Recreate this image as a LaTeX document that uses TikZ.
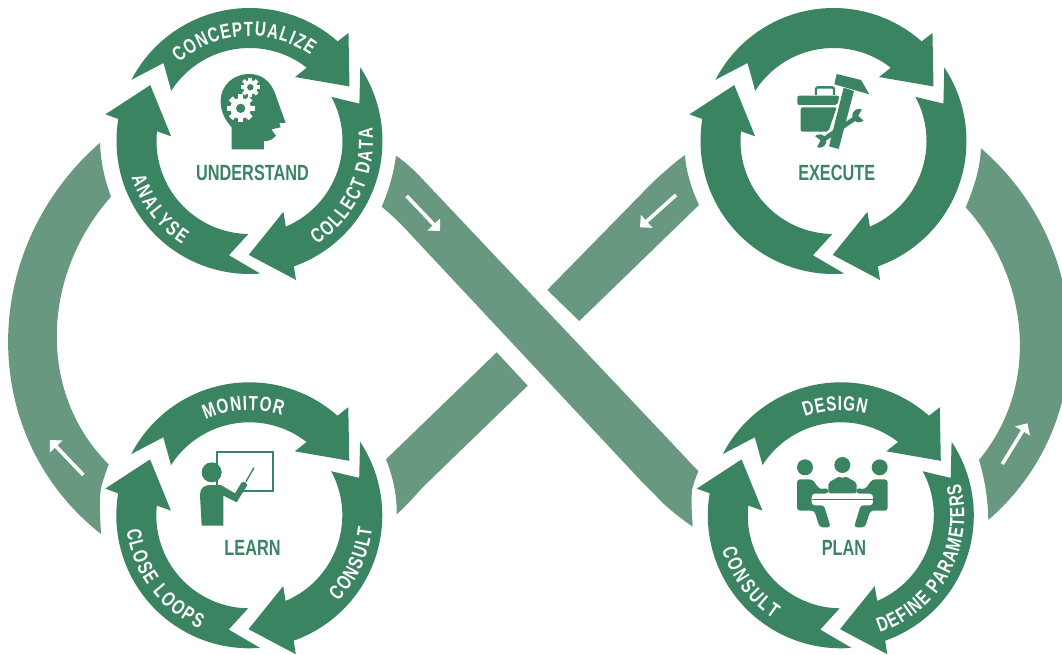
\documentclass[tikz,border=0pt]{standalone}
\usepackage{fontspec}
\newfontfamily\ringfont[FakeStretch=0.74]{Liberation Sans}
\usetikzlibrary{arrows.meta,decorations.text}
\definecolor{ringgreen}{HTML}{3A8462}
\definecolor{bandgreen}{HTML}{689980}
\newcommand{\ringstyle}{\ringfont\bfseries\fontsize{20.5}{20.5}\selectfont}
\tikzset{x=1pt, y=-1pt,
band/.style={fill=bandgreen}, % the pale loop of the eight
flowarrow/.style={draw=white, line width=3.6pt, -{Triangle[length=9pt,width=17pt,fill=white]}},
centerlabel/.style={font=\ringfont\bfseries\fontsize{22}{22}\selectfont, text=ringgreen, inner sep=0pt},
icon/.style={fill=ringgreen},
}
% three arrows of a ring
\newcommand{\cyclering}{
\foreach \rot in {0,-119,-238}
\fill[ringgreen,rotate=\rot] (152.6:133) arc[start angle=152.6,end angle=48.5,radius=133] -- (47.5:146.5) -- (28.6:113.9) -- (54.6:78.5) -- (52:93) arc[start angle=52,end angle=147.3,radius=93] -- (137.8:116.1) -- cycle;
}
\newcommand{\ringlabel}[4]{
\path[decorate,decoration={text along path,text color=white,text align=fit to path,text={|\ringstyle|#1}}] (#2:#4) arc[start angle=#2,end angle=#3,radius=#4];
}
\newcommand{\cog}[3]{
\begin{scope}[shift={(#1,#2)},scale=#3]
\fill[white] (0,0) circle (.74);
\foreach \a in {0,45,...,315}
\fill[white,rotate=\a] (-.2,.6) rectangle (.2,1);
\fill[ringgreen] (0,0) circle (.33);
\end{scope}
}

\begin{document}
\begin{tikzpicture}
\useasboundingbox (0,0) rectangle (1062,655);
\clip (0,0) rectangle (1062,655);

\coordinate (understandc) at (249.5,141);
\coordinate (executec) at (833.5,141);
\coordinate (learnc) at (249.3,515.3);
\coordinate (planc) at (840.8,515.3);

% pale bands
\fill[band] (100,142.7) .. controls (-22.7,250) and (-22.7,437) .. (101,534) .. controls (100,515) and (99,500) .. (101,488) .. controls (103,480) and (106,472) .. (108.7,464.3) .. controls (38,394.5) and (40.2,276.5) .. (111,196.7) .. controls (105,180) and (101,165) .. cycle;
\fill[band] (981,148.3) .. controls (1094.4,246.4) and (1101.7,421.9) .. (988.3,520) .. controls (988,500) and (985,480) .. (979,460) .. controls (1041.7,384) and (1028.4,277) .. (965.7,207.3) .. controls (973,190) and (980,170) .. cycle;
\fill[band] (396,155.7) .. controls (408,164) and (416,172) .. (423.3,180) -- (680,451.7) .. controls (686,458) and (692,465) .. (698.3,471) .. controls (695,480) and (693,485) .. (692,490) .. controls (691,505) and (692,515) .. (692.7,526.7) .. controls (680,518) and (665,506) .. (656.7,496.7) -- (643.3,483.3) -- (403.3,226.7) .. controls (395,218) and (388,212) .. (381.7,206.7) .. controls (389,190) and (394,172) .. cycle;
\fill[band] (685,155) .. controls (686,172) and (692,190) .. (699,205) -- (579.3,321) -- (547.3,290) -- (653.3,181.7) .. controls (664,172) and (675,162) .. cycle;
\fill[band] (496.7,352.3) -- (527.7,385.7) -- (423.3,486.7) .. controls (415,496) and (405,507) .. (396.7,514.3) .. controls (397,495) and (393,477) .. (386,459.3) -- cycle;

\draw[flowarrow] (83.3,475) -- (50,440);
\draw[flowarrow] (1002.3,464) -- (1027.3,423.3);
\draw[flowarrow] (406.7,196) -- (440,231);
\draw[flowarrow] (676,195) -- (640,227.3);

% rings
\begin{scope}[shift={(understandc)},y=1pt]
\cyclering
\ringlabel{CONCEPTUALIZE}{132}{54.5}{105}
\ringlabel{COLLECT DATA}{-57}{6}{123.5}
\ringlabel{ANALYSE}{197}{237}{123.5}
\end{scope}

\begin{scope}[shift={(executec)},y=1pt]
\cyclering
\end{scope}

\begin{scope}[shift={(learnc)},y=1pt]
\cyclering
\ringlabel{MONITOR}{114.6}{71.7}{105}
\ringlabel{CONSULT}{-44}{-6}{123.5}
\ringlabel{CLOSE LOOPS}{187}{246.3}{123.5}
\end{scope}

\begin{scope}[shift={(planc)},y=1pt]
\cyclering
\ringlabel{DESIGN}{110}{76}{105}
\ringlabel{DEFINE PARAMETERS}{-71.6}{14.8}{123.5}
\ringlabel{CONSULT}{195.9}{236.8}{123.5}
\end{scope}

\node[centerlabel] (understand) at (252.5,173.3) {UNDERSTAND};
\node[centerlabel] (execute) at (836.7,173.3) {EXECUTE};
\node[centerlabel] (learn) at (252.5,548.3) {LEARN};
\node[centerlabel] (plan) at (844,548.3) {PLAN};

% head
\begin{scope}[shift={(190,70)},scale=.3333]
\fill[icon] (125,238) -- (125,172) .. controls (105,150) and (92,125) .. (92,95) .. controls (92,45) and (130,12) .. (178,12) .. controls (225,12) and (250,45) .. (262,90) -- (287,158) -- (268,160) -- (272,172) -- (244,178) -- (258,197) .. controls (250,208) and (235,214) .. (222,214) -- (222,238) -- cycle;
\cog{152}{115}{42}
\cog{181}{52}{29}
\end{scope}

% toolbox, hammer, wrench
\begin{scope}[shift={(785,65)},scale=.3333]
\draw[ringgreen,line width=2.4pt,rounded corners=2pt] (93,90) -- (93,67) -- (147,67) -- (147,90);
\fill[icon,rounded corners=2pt] (37,120) -- (37,92) -- (163,92) -- (157,120) -- cycle;
\fill[icon,rounded corners=2pt] (47,127) -- (155,127) -- (130,200) -- (47,200) -- cycle;
\draw[ringgreen,line width=4.6pt] (112,226) -- (216,156);
\fill[icon] (104,228) circle (20);
\fill[icon] (222,152) circle (20);
\fill[white] (88,212) -- (106,226) -- (96,246) -- (76,240) -- cycle;
\fill[white] (240,170) -- (220,152) -- (232,132) -- (250,140) -- cycle;
\fill[icon] (155,27) -- (228,45) -- (253,88) -- (148,58) -- cycle;
\fill[icon] (176,68) -- (207,78) -- (161,252) -- (132,244) -- cycle;
\end{scope}

% teacher and board
\begin{scope}[shift={(190,445)},scale=.3333]
\draw[ringgreen,line width=2pt] (80,20) rectangle (250,138);
\draw[ringgreen,line width=1.4pt] (168,110) -- (192,68);
\fill[icon] (65,82) circle (30);
\draw[white,line width=3pt] (92,118) -- (135,143) -- (155,110);
\fill[icon] (35,242) -- (30,150) .. controls (30,130) and (42,120) .. (60,120) -- (92,120) -- (135,145) -- (155,112) .. controls (162,108) and (170,112) .. (172,120) -- (140,172) -- (100,152) -- (100,242) -- cycle;
\end{scope}

% meeting
\begin{scope}[shift={(785,450)},scale=.3333]
\fill[icon] (172,45) circle (24);
\fill[icon,rounded corners=2pt] (130,130) -- (130,98) -- (165,78) -- (172,86) -- (180,78) -- (215,98) -- (215,130) -- cycle;
\foreach \flip in {1,-1}{
\begin{scope}[shift={(172,0)},xscale=\flip]
\fill[icon] (-112,52) circle (24);
\fill[icon,rounded corners=3pt] (-136,88) -- (-90,88) -- (-68,118) -- (-42,114) -- (-42,131) -- (-92,131) -- (-92,166) -- (-55,166) -- (-35,232) -- (-68,232) -- (-84,182) -- (-136,182) -- cycle;
\end{scope}
}
\draw[ringgreen,line width=.5pt] (80,147) -- (264,147);
\end{scope}

\end{tikzpicture}
\end{document}
